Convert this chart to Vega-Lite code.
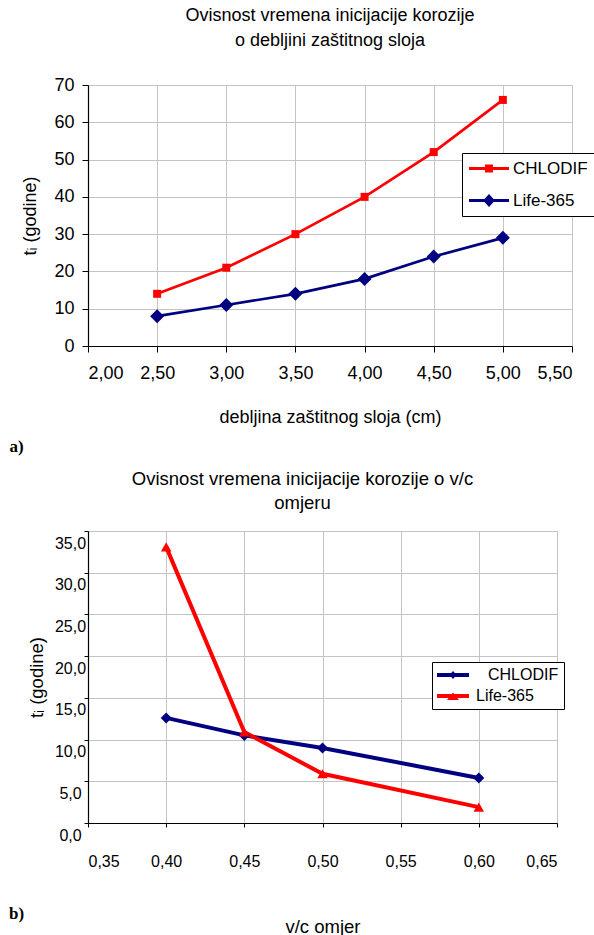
{
  "$schema": "https://vega.github.io/schema/vega-lite/v6.json",
  "padding": {"left": 8, "top": 6, "right": 0, "bottom": 0},
  "background": "white",
  "align": "none",
  "spacing": 14,
  "resolve": {"scale": {"color": "independent"}, "legend": {"color": "independent"}},
  "config": {
    "font": "Liberation Sans",
    "view": {"stroke": "#a6a6a6", "strokeWidth": 1},
    "axis": {"domainColor": "#000000", "tickColor": "#000000", "labelColor": "#000000", "titleColor": "#000000", "titleFontWeight": "normal", "gridColor": "#c4c4c4", "gridWidth": 1, "labelFont": "Liberation Sans", "titleFont": "Liberation Sans", "domainWidth": 1.2},
    "title": {"color": "#000000", "fontWeight": "normal", "font": "Liberation Sans"},
    "legend": {"title": null, "orient": "none", "strokeColor": "#000000", "fillColor": "#ffffff", "labelColor": "#000000", "labelFont": "Liberation Sans"}
  },
  "vconcat": [
    {
      "title": {"text": "a)", "orient": "bottom", "anchor": "start", "font": "Liberation Serif", "fontWeight": "bold", "fontSize": 17, "dx": -12, "offset": 12},
      "vconcat": [
        {
          "width": 484,
          "height": 261,
          "title": {"text": ["Ovisnost vremena inicijacije korozije", "o debljini zaštitnog sloja"], "fontSize": 18, "anchor": "middle", "frame": "group", "offset": 26, "lineHeight": 25},
          "data": {"values": [
            {"debljina": 2.5, "ti": 14, "model": "CHLODIF"},
            {"debljina": 3.0, "ti": 21, "model": "CHLODIF"},
            {"debljina": 3.5, "ti": 30, "model": "CHLODIF"},
            {"debljina": 4.0, "ti": 40, "model": "CHLODIF"},
            {"debljina": 4.5, "ti": 52, "model": "CHLODIF"},
            {"debljina": 5.0, "ti": 66, "model": "CHLODIF"},
            {"debljina": 2.5, "ti": 8, "model": "Life-365"},
            {"debljina": 3.0, "ti": 11, "model": "Life-365"},
            {"debljina": 3.5, "ti": 14, "model": "Life-365"},
            {"debljina": 4.0, "ti": 18, "model": "Life-365"},
            {"debljina": 4.5, "ti": 24, "model": "Life-365"},
            {"debljina": 5.0, "ti": 29, "model": "Life-365"}
          ]},
          "encoding": {
            "x": {"field": "debljina", "type": "quantitative",
              "scale": {"domain": [2, 5.5], "nice": false, "zero": false},
              "axis": {"values": [2, 2.5, 3, 3.5, 4, 4.5, 5, 5.5], "labelExpr": "replace(format(datum.value, '.2f'), '.', ',')", "tickSize": 6, "labelPadding": 12, "labelFontSize": 18, "title": "debljina zaštitnog sloja (cm)", "titleFontSize": 18, "titlePadding": 26, "grid": true}},
            "y": {"field": "ti", "type": "quantitative",
              "scale": {"domain": [0, 70], "nice": false},
              "axis": {"values": [0, 10, 20, 30, 40, 50, 60, 70], "tickSize": 6, "labelPadding": 8, "labelFontSize": 18, "title": "tᵢ (godine)", "titleFontSize": 18, "titlePadding": 14, "grid": true}},
            "color": {"field": "model", "type": "nominal",
              "scale": {"domain": ["CHLODIF", "Life-365"], "range": ["#ff0000", "#000080"]},
              "legend": {"legendX": 374, "legendY": 68, "padding": 7, "symbolSize": 289, "labelFontSize": 17, "labelOffset": 27, "rowPadding": 14,
                "encode": {"symbols": {"update": {
                  "shape": {"signal": "datum.value === 'CHLODIF' ? 'M-2.353,-0.176H2.353V0.176H-2.353Z M-0.47,-0.47H0.47V0.47H-0.47Z' : 'M-2.353,-0.176H2.353V0.176H-2.353Z M0,-0.76L0.7,0L0,0.76L-0.7,0Z'"},
                  "x": {"value": 20},
                  "fill": {"signal": "datum.value === 'CHLODIF' ? '#ff0000' : '#000080'"},
                  "stroke": {"value": "transparent"},
                  "strokeWidth": {"value": 0},
                  "opacity": {"value": 1}
                }}}}}
          },
          "layer": [
            {"mark": {"type": "line", "strokeWidth": 2.7}},
            {"transform": [{"filter": "datum.model === 'CHLODIF'"}],
              "mark": {"type": "point", "filled": true, "opacity": 1, "shape": "square", "size": 64}},
            {"transform": [{"filter": "datum.model === 'Life-365'"}],
              "mark": {"type": "point", "filled": true, "opacity": 1, "shape": "diamond", "size": 196}}
          ]
        }
      ]
    },
    {
      "title": {"text": "b)", "orient": "bottom", "anchor": "start", "font": "Liberation Serif", "fontWeight": "bold", "fontSize": 17, "dx": -18, "dy": -30, "offset": 0},
      "vconcat": [
        {
          "width": 469,
          "height": 292,
          "title": {"text": ["Ovisnost vremena inicijacije korozije o v/c", "omjeru"], "fontSize": 18.5, "anchor": "middle", "frame": "group", "offset": 18, "lineHeight": 24, "dx": -20},
          "data": {"values": [
            {"vc": 0.40, "ti": 12.6, "model": "CHLODIF"},
            {"vc": 0.45, "ti": 10.5, "model": "CHLODIF"},
            {"vc": 0.50, "ti": 9.0, "model": "CHLODIF"},
            {"vc": 0.60, "ti": 5.4, "model": "CHLODIF"},
            {"vc": 0.40, "ti": 33.1, "model": "Life-365"},
            {"vc": 0.45, "ti": 10.9, "model": "Life-365"},
            {"vc": 0.50, "ti": 5.9, "model": "Life-365"},
            {"vc": 0.60, "ti": 1.9, "model": "Life-365"}
          ]},
          "encoding": {
            "x": {"field": "vc", "type": "quantitative",
              "scale": {"domain": [0.35, 0.65], "nice": false, "zero": false},
              "axis": {"values": [0.35, 0.4, 0.45, 0.5, 0.55, 0.6, 0.65], "labelExpr": "replace(format(datum.value, '.2f'), '.', ',')", "tickSize": 4, "labelPadding": 26, "labelFontSize": 16, "title": "v/c omjer", "titleFontSize": 18.5, "titlePadding": 48, "grid": true}},
            "y": {"field": "ti", "type": "quantitative",
              "scale": {"domain": [0, 35], "nice": false},
              "axis": {"values": [0, 5, 10, 15, 20, 25, 30, 35], "labelExpr": "replace(format(datum.value, '.1f'), '.', ',')", "labelOffset": 12, "labelAlign": "center", "tickSize": 4, "labelPadding": 14, "labelFontSize": 16, "title": "tᵢ (godine)", "titleFontSize": 18.5, "titlePadding": 8, "grid": true}},
            "color": {"field": "model", "type": "nominal",
              "scale": {"domain": ["CHLODIF", "Life-365"], "range": ["#000080", "#ff0000"]},
              "legend": {"legendX": 344, "legendY": 131, "padding": 5, "symbolSize": 256, "labelFontSize": 16, "labelOffset": 23, "rowPadding": 5,
                "encode": {
                  "labels": {"update": {"dx": {"signal": "datum.value === 'CHLODIF' ? 12 : 0"}}},
                  "symbols": {"update": {
                  "shape": {"signal": "datum.value === 'CHLODIF' ? 'M-2,-0.25H2V0.25H-2Z M0,-0.5L0.44,0L0,0.5L-0.44,0Z' : 'M-2,-0.25H2V0.25H-2Z M0,-0.45L0.75,0.5L-0.75,0.5Z'"},
                  "x": {"value": 16},
                  "fill": {"signal": "datum.value === 'CHLODIF' ? '#000080' : '#ff0000'"},
                  "stroke": {"value": "transparent"},
                  "strokeWidth": {"value": 0},
                  "opacity": {"value": 1}
                }}}}}
          },
          "layer": [
            {"mark": {"type": "line", "strokeWidth": 4}},
            {"transform": [{"filter": "datum.model === 'CHLODIF'"}],
              "mark": {"type": "point", "filled": true, "opacity": 1, "shape": "diamond", "size": 121}},
            {"transform": [{"filter": "datum.model === 'Life-365'"}],
              "mark": {"type": "point", "filled": true, "opacity": 1, "shape": "triangle-up", "size": 110}}
          ]
        }
      ]
    }
  ]
}
